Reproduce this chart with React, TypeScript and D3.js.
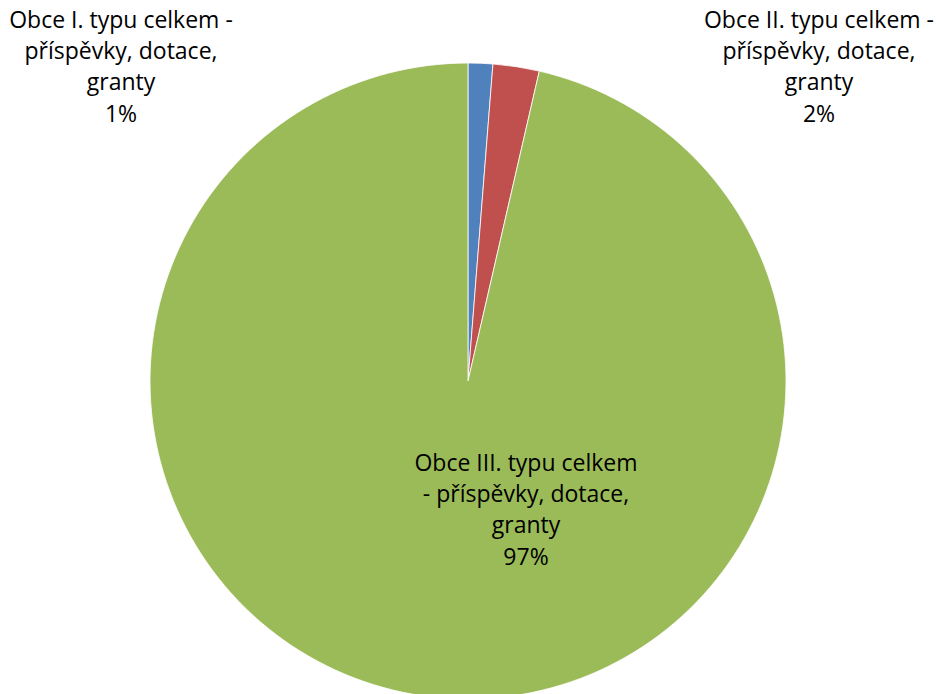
import React, { useRef, useEffect } from 'react';
import * as d3 from 'd3';

// data
const categories = [
    'Obce I. typu celkem - příspěvky, dotace, granty',
    'Obce II. typu celkem - příspěvky, dotace, granty',
    'Obce III. typu celkem - příspěvky, dotace, granty',
];
const values = [1.25, 2.35, 96.4];
const percentLabels = ['1%', '2%', '97%'];
const colors = ['#4F81BD', '#C0504D', '#9BBB59'];

// label lines (wrapped as in the original)
const labelLines = [
    ['Obce I. typu celkem -', 'příspěvky, dotace,', 'granty'],
    ['Obce II. typu celkem -', 'příspěvky, dotace,', 'granty'],
    ['Obce III. typu celkem', '- příspěvky, dotace,', 'granty'],
];
const labelPos = [
    { x: 121, y: 28 },
    { x: 819, y: 28 },
    { x: 526, y: 471 },
];

const WIDTH = 936;
const HEIGHT = 694;

const App: React.FC = () => {
    const svgRef = useRef<SVGSVGElement | null>(null);

    useEffect(() => {
        if (!svgRef.current) return;
        const svg = d3.select(svgRef.current);
        svg.selectAll('*').remove();

        const cx = 468;
        const cy = 381;
        const radius = 318;

        const data = categories.map((c, i) => ({ name: c, value: values[i], color: colors[i], pct: percentLabels[i] }));

        const pie = d3.pie<typeof data[number]>()
            .value(d => d.value)
            .sort(null);

        const arc = d3.arc<d3.PieArcDatum<typeof data[number]>>()
            .innerRadius(0)
            .outerRadius(radius);

        const g = svg.append('g').attr('transform', `translate(${cx}, ${cy})`);

        g.selectAll('path')
            .data(pie(data))
            .enter()
            .append('path')
            .attr('d', arc)
            .attr('fill', d => d.data.color)
            .attr('stroke', '#ffffff')
            .attr('stroke-width', 0.8);

        // popisky
        const lineH = 31.2;
        data.forEach((d, i) => {
            const lines = [...labelLines[i], d.pct];
            const t = svg.append('text')
                .attr('x', labelPos[i].x)
                .attr('y', labelPos[i].y)
                .attr('text-anchor', 'middle')
                .style('font-family', '"Open Sans", sans-serif')
                .style('font-size', '23px')
                .attr('fill', '#000');
            lines.forEach((l, j) => {
                t.append('tspan')
                    .attr('x', labelPos[i].x)
                    .attr('y', labelPos[i].y + j * lineH)
                    .text(l);
            });
        });
    }, []);

    return (
        <svg
            ref={svgRef}
            width={WIDTH}
            height={HEIGHT}
            style={{ position: 'absolute', left: 0, top: 0, background: '#fff' }}
        ></svg>
    );
};

export default App;
